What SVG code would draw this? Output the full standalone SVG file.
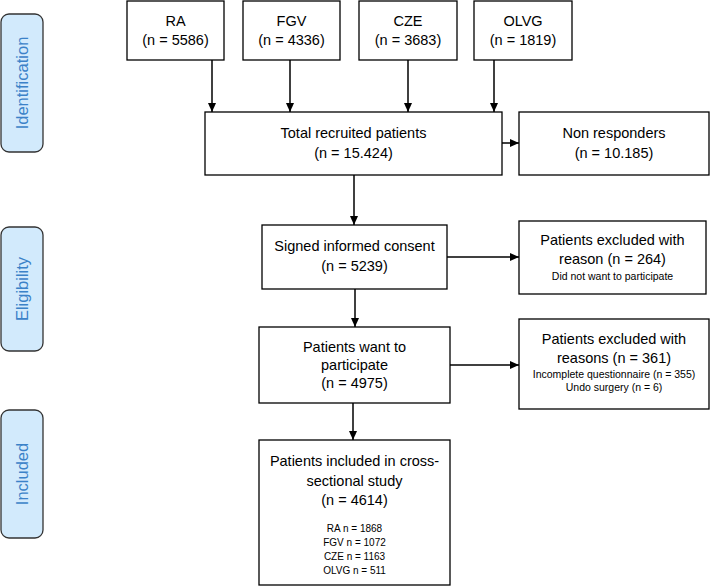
<svg xmlns="http://www.w3.org/2000/svg" width="710" height="586" viewBox="0 0 710 586">
<style>
.box{fill:#fff;stroke:#000;stroke-width:1.3}
.side{fill:#d2eafc;stroke:#333;stroke-width:1.3}
.t{font-family:"Liberation Sans",Arial,sans-serif;font-size:14.5px;fill:#000;text-anchor:middle}
.s{font-family:"Liberation Sans",Arial,sans-serif;font-size:10.5px;fill:#000;text-anchor:middle}
.l{font-family:"Liberation Sans",Arial,sans-serif;font-size:10px;fill:#000;text-anchor:middle}
.st{font-family:"Liberation Sans",Arial,sans-serif;font-size:16.5px;fill:#3b82c8;text-anchor:middle}
.c{stroke:#000;stroke-width:1.5;fill:none;marker-end:url(#ah)}
</style>
<defs>
<marker id="ah" markerWidth="10" markerHeight="10" refX="9" refY="5" orient="auto" markerUnits="userSpaceOnUse">
<path d="M0,1 L9,5 L0,9 Z" fill="#000"/>
</marker>
</defs>
<rect width="710" height="586" fill="#fff"/>

<g id="side-identification"><rect class="side" x="1" y="14" width="42" height="138" rx="8"/><text class="st" transform="translate(28,83) rotate(-90)">Identification</text></g>
<g id="side-eligibility"><rect class="side" x="1" y="227" width="42" height="124" rx="8"/><text class="st" transform="translate(28,289) rotate(-90)">Eligibility</text></g>
<g id="side-included"><rect class="side" x="1" y="410" width="42" height="128" rx="8"/><text class="st" transform="translate(28,474) rotate(-90)">Included</text></g>

<g id="ra"><rect class="box" x="127" y="1" width="97" height="59"/><text class="t" x="175.5" y="26">RA</text><text class="t" x="175.5" y="45">(n = 5586)</text></g>
<g id="fgv"><rect class="box" x="243" y="1" width="97" height="59"/><text class="t" x="291.5" y="26">FGV</text><text class="t" x="291.5" y="45">(n = 4336)</text></g>
<g id="cze"><rect class="box" x="359" y="1" width="98" height="59"/><text class="t" x="408" y="26">CZE</text><text class="t" x="408" y="45">(n = 3683)</text></g>
<g id="olvg"><rect class="box" x="474" y="1" width="98" height="59"/><text class="t" x="523" y="26">OLVG</text><text class="t" x="523" y="45">(n = 1819)</text></g>

<g id="total"><rect class="box" x="205" y="112" width="297" height="63"/><text class="t" x="353.5" y="138">Total recruited patients</text><text class="t" x="353.5" y="158">(n = 15.424)</text></g>
<g id="nonresp"><rect class="box" x="519" y="112" width="190" height="63"/><text class="t" x="614" y="138">Non responders</text><text class="t" x="614" y="158">(n = 10.185)</text></g>

<g id="signed"><rect class="box" x="262" y="225" width="185" height="64"/><text class="t" x="354.5" y="251">Signed informed consent</text><text class="t" x="354.5" y="271">(n = 5239)</text></g>
<g id="excl1"><rect class="box" x="519" y="221" width="187" height="73"/><text class="t" x="612.5" y="245">Patients excluded with</text><text class="t" x="612.5" y="264">reason (n = 264)</text><text class="s" x="612.5" y="280">Did not want to participate</text></g>

<g id="want"><rect class="box" x="259" y="327" width="191" height="76"/><text class="t" x="354.5" y="352">Patients want to</text><text class="t" x="354.5" y="370">participate</text><text class="t" x="354.5" y="388">(n = 4975)</text></g>
<g id="excl2"><rect class="box" x="519" y="319" width="190" height="90"/><text class="t" x="614" y="344">Patients excluded with</text><text class="t" x="614" y="363">reasons (n = 361)</text><text class="s" x="614" y="378">Incomplete questionnaire (n = 355)</text><text class="s" x="614" y="391">Undo surgery (n = 6)</text></g>

<g id="included"><rect class="box" x="259" y="440" width="191" height="145"/><text class="t" x="354.5" y="466">Patients included in cross-</text><text class="t" x="354.5" y="486">sectional study</text><text class="t" x="354.5" y="505">(n = 4614)</text><text class="l" x="354.5" y="532">RA n = 1868</text><text class="l" x="354.5" y="546">FGV n = 1072</text><text class="l" x="354.5" y="560">CZE n = 1163</text><text class="l" x="354.5" y="574">OLVG n = 511</text></g>

<g id="connectors">
<line class="c" x1="212" y1="60" x2="212" y2="112"/>
<line class="c" x1="290" y1="60" x2="290" y2="112"/>
<line class="c" x1="408" y1="60" x2="408" y2="112"/>
<line class="c" x1="494" y1="60" x2="494" y2="112"/>
<line class="c" x1="502" y1="143" x2="519" y2="143"/>
<line class="c" x1="354" y1="175" x2="354" y2="225"/>
<line class="c" x1="447" y1="257" x2="519" y2="257"/>
<line class="c" x1="355" y1="289" x2="355" y2="327"/>
<line class="c" x1="450" y1="365" x2="519" y2="365"/>
<line class="c" x1="353" y1="403" x2="353" y2="440"/>
</g>
</svg>
